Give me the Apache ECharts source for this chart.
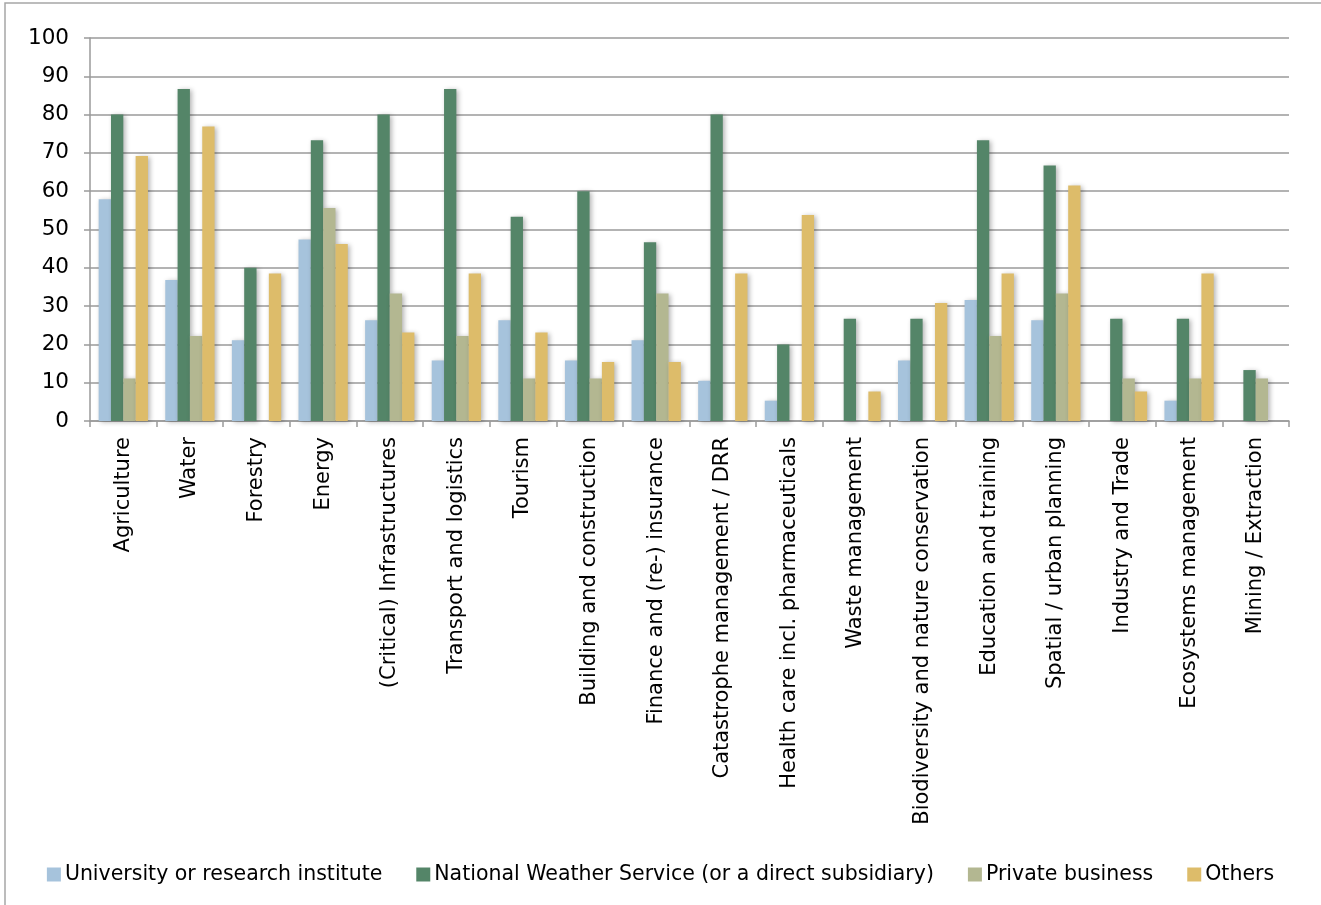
<!DOCTYPE html>
<html>
<head>
<meta charset="utf-8">
<script src="https://cdn.jsdelivr.net/npm/echarts@6/dist/echarts.min.js"></script>
<style>
html,body{margin:0;padding:0;background:#fff;}
#main{width:1321px;height:905px;}
</style>
</head>
<body>
<div id="main"></div>
<script>
// 类别
var categories = ['Agriculture', 'Water', 'Forestry', 'Energy', '(Critical) Infrastructures', 'Transport and logistics',
    'Tourism', 'Building and construction', 'Finance and (re-) insurance', 'Catastrophe management / DRR',
    'Health care incl. pharmaceuticals', 'Waste management', 'Biodiversity and nature conservation',
    'Education and training', 'Spatial / urban planning', 'Industry and Trade', 'Ecosystems management', 'Mining / Extraction'];

var seriesNames = ['University or research institute', 'National Weather Service (or a direct subsidiary)', 'Private business', 'Others'];

var university = [57.9, 36.8, 21.1, 47.4, 26.3, 15.8, 26.3, 15.8, 21.1, 10.5, 5.3, 0, 15.8, 31.6, 26.3, 0, 5.3, 0];
var weatherService = [80, 86.7, 40, 73.3, 80, 86.7, 53.3, 60, 46.7, 80, 20, 26.7, 26.7, 73.3, 66.7, 26.7, 26.7, 13.3];
var privateBusiness = [11.1, 22.2, 0, 55.6, 33.3, 22.2, 11.1, 11.1, 33.3, 0, 0, 0, 0, 22.2, 33.3, 11.1, 11.1, 11.1];
var others = [69.2, 76.9, 38.5, 46.2, 23.1, 38.5, 23.1, 15.4, 15.4, 38.5, 53.8, 7.7, 30.8, 38.5, 61.5, 7.7, 38.5, 0];

var yTicks = [0, 10, 20, 30, 40, 50, 60, 70, 80, 90, 100];

var colors = ['#a6c3dc', '#548568', '#b3b791', '#ddbc6a'];
var font = 'DejaVu Sans';

var chart = echarts.init(document.getElementById('main'));

function makeSeries(name, data, color) {
    return {
        name: name,
        type: 'bar',
        data: data,
        barGap: '0%',
        barCategoryGap: '26%',
        itemStyle: {
            color: color,
            shadowBlur: 5,
            shadowOffsetX: 2,
            shadowOffsetY: 1,
            shadowColor: 'rgba(0,0,0,0.3)'
        },
        animation: false
    };
}

var option = {
    backgroundColor: '#fff',
    textStyle: { fontFamily: font },
    graphic: [{
        type: 'rect',
        shape: { x: 5, y: 3, width: 1340, height: 930 },
        style: { fill: 'none', stroke: '#a6a6a6', lineWidth: 1.5 },
        silent: true
    }],
    grid: { left: 90, right: 32, top: 38, bottom: 484 },
    legend: {
        top: 859,
        left: 'center',
        itemWidth: 14,
        itemHeight: 14,
        itemGap: 34,
        icon: 'rect',
        textStyle: { fontFamily: font, fontSize: 20.5, color: '#000', padding: [0, 0, 0, -1] },
        data: seriesNames
    },
    xAxis: {
        type: 'category',
        data: categories,
        axisLine: { lineStyle: { color: '#9a9a9a', width: 1.5 } },
        axisTick: { show: true, length: 6, lineStyle: { color: '#9a9a9a', width: 1.5 } },
        axisLabel: {
            rotate: 90,
            interval: 0,
            margin: 16,
            fontFamily: font,
            fontSize: 21,
            color: '#000'
        }
    },
    yAxis: {
        type: 'value',
        min: yTicks[0],
        max: yTicks[yTicks.length - 1],
        interval: 10,
        axisLine: { show: true, lineStyle: { color: '#9a9a9a', width: 1.5 } },
        axisTick: { show: true, length: 6, lineStyle: { color: '#9a9a9a', width: 1.5 } },
        splitLine: { lineStyle: { color: '#9a9a9a', width: 1.5 } },
        axisLabel: { fontFamily: font, fontSize: 21.5, color: '#000', margin: 21 }
    },
    series: [
        makeSeries(seriesNames[0], university, colors[0]),
        makeSeries(seriesNames[1], weatherService, colors[1]),
        makeSeries(seriesNames[2], privateBusiness, colors[2]),
        makeSeries(seriesNames[3], others, colors[3])
    ]
};

chart.setOption(option);
</script>
</body>
</html>
